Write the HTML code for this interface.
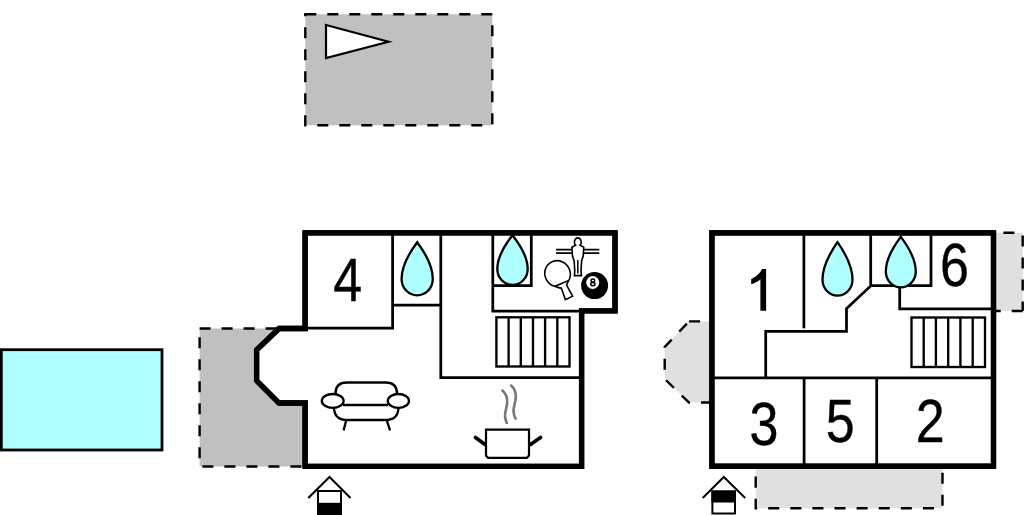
<!DOCTYPE html>
<html><head><meta charset="utf-8"><title>Floor plan</title>
<style>
html,body{margin:0;padding:0;background:#fff;width:1024px;height:515px;overflow:hidden}
svg{display:block}
.num{font-family:"Liberation Sans",sans-serif;font-size:60.5px;fill:#000;stroke:#000;stroke-width:0.35px}
</style></head>
<body>
<svg width="1024" height="515" viewBox="0 0 1024 515">
<g fill="none" stroke="#000">
<!-- top terrace -->
<rect x="305.3" y="14.3" width="187" height="111" fill="#c0c0c0" stroke-width="2.4" stroke-dasharray="11 11"/>
<polygon points="326,25 388.5,41.7 326,58" fill="#fff" stroke-width="2.2"/>
<!-- pool -->
<rect x="1.3" y="349.7" width="160.7" height="100.3" fill="#b0ffff" stroke-width="2.8"/>
<!-- left patio -->
<rect x="199.6" y="328.5" width="105" height="138" fill="#c0c0c0" stroke="none"/>
<path d="M199.6,328.5 H302.5" stroke-width="2.4" stroke-dasharray="11 11"/>
<path d="M302.5,466.5 H199.6" stroke-width="2.4" stroke-dasharray="11 11" stroke-dashoffset="20.9"/>
<path d="M199.6,466.5 V328.5" stroke-width="2.4" stroke-dasharray="11 11" stroke-dashoffset="13.8"/>
<!-- right house gray areas -->
<path d="M712,402.5 H689 L664.7,379 V347 L689,321.4 H712 Z" fill="#e0e0e0" stroke="none"/>
<path d="M712,402.5 H689 L664.7,379 V347 L689,321.4" stroke-width="2.4" stroke-dasharray="11 11"/>
<path d="M689,321.4 H712" stroke-width="2.4" stroke-dasharray="11 11"/>
<rect x="993.5" y="232.8" width="29.2" height="78.2" fill="#e0e0e0" stroke="none"/>
<path d="M1022.7,311 V232.8 H993.5" stroke-width="2.4" stroke-dasharray="11 11" stroke-dashoffset="1.5"/>
<path d="M1022.7,311 H993.5" stroke-width="2.4" stroke-dasharray="11 11"/>
<rect x="755.7" y="458" width="186.8" height="50.3" fill="#e0e0e0" stroke="none"/>
<path d="M755.7,466 V508.3 H942.5 V466" stroke-width="2.4" stroke-dasharray="11.05 11.05" stroke-dashoffset="11.5"/>

<!-- LEFT HOUSE -->
<path d="M305.1,232.8 H615 V310.8 H581.6 V466.3 H305.1 V403 H279 L256.6,380.5 V350 L279,328.5 H305.1 Z" fill="#fff" stroke-width="5.3"/>
<g stroke-width="2.75">
<path d="M305,328.1 H392.6 V232.8"/>
<path d="M392.6,305 H440.8"/>
<path d="M440.8,232.8 V377.7 H581.6"/>
<path d="M492.8,232.8 V311.2 H581.6"/>
<path d="M531.3,232.8 V285.5 H492.8"/>
</g>
<g stroke-width="2.35">
<rect x="496.4" y="317.3" width="73.1" height="49.2"/>
<path d="M508.6,317.3 V366.5 M520.8,317.3 V366.5 M533,317.3 V366.5 M545.1,317.3 V366.5 M557.3,317.3 V366.5"/>
</g>
<path d="M305.1,232.8 H615 V310.8 H581.6 V466.3 H305.1 V403 H279 L256.6,380.5 V350 L279,328.5 H305.1 Z" stroke-width="5.3"/>

<!-- RIGHT HOUSE -->
<rect x="711.9" y="232.9" width="281.6" height="233.3" fill="#fff" stroke-width="5.3"/>
<g stroke-width="2.75">
<path d="M803.9,232.9 V328.3"/>
<path d="M765.7,377.8 V331.3 H846.5 V308.5 L870.7,286 V232.9"/>
<path d="M870.7,285.5 H931 V232.9"/>
<path d="M899.7,288 V308.8 H993.5"/>
<path d="M712,377.8 H993.5"/>
<path d="M804.1,377.8 V466.2 M876.7,377.8 V466.2"/>
</g>
<g stroke-width="2.35">
<rect x="911.5" y="317.5" width="73.5" height="49.5"/>
<path d="M923.7,317.5 V367 M935.9,317.5 V367 M948.2,317.5 V367 M960.4,317.5 V367 M972.7,317.5 V367"/>
</g>
<rect x="711.9" y="232.9" width="281.6" height="233.3" stroke-width="5.3"/>

<!-- drops -->
<g fill="#b0ffff" stroke-width="2.3">
<path d="M417.2,242.2 C421.9,248.6 432.8,263.0 432.8,278.9 A15.6,16.4 0 0 1 401.6,278.9 C401.6,263.0 412.5,248.6 417.2,242.2 Z"/>
<path d="M512.5,235.2 C517.1,241.2 527.7,254.1 527.7,269.0 A15.2,16.0 0 0 1 497.3,269.0 C497.3,254.1 507.9,241.2 512.5,235.2 Z"/>
<path d="M837.5,242.2 C842.0,248.6 852.5,263.8 852.5,279.8 A15.0,15.8 0 0 1 822.5,279.8 C822.5,263.8 833.0,248.6 837.5,242.2 Z"/>
<path d="M900.8,236.8 C905.3,242.9 915.8,256.4 915.8,271.6 A15.0,15.8 0 0 1 885.8,271.6 C885.8,256.4 896.3,242.9 900.8,236.8 Z"/>
</g>

<!-- sofa -->
<g stroke-width="2.3" fill="#fff">
<path d="M335.5,396 V393.5 Q335.5,382.5 347,382.5 H385.5 Q397,382.5 397,393.5 V396"/>
<path d="M334,407 Q334,420 347,420 H385.5 Q398.5,420 398.5,407"/>
<path d="M343,405 H388"/>
<path d="M346,421 L343.6,430.4 M387,421 L390,430.4"/>
<ellipse cx="332.7" cy="400.9" rx="10.9" ry="6.9"/>
<ellipse cx="398.4" cy="400.9" rx="10.6" ry="6.9"/>
</g>

<!-- pot -->
<g stroke-width="2.2">
<path d="M486,429.6 H529 V455.5 L527,457.8 H488 L486,455.5 Z" fill="#fff"/>
<path d="M475.5,437.5 L485,444.5 M540.5,437.5 L530.5,444.5" stroke-width="3.6" stroke-linecap="round"/>
<path d="M502.4,390.6 C506.3,393.8 507.6,398.5 507.1,403.5 C506.6,408.5 504.6,412.5 505,416.5 C505.3,419.3 506,421.4 506.8,423" stroke="#777" stroke-width="2.6" stroke-linecap="round"/>
<path d="M511.1,385.6 C515,388.8 516.2,393.5 515.7,398.5 C515.2,403.5 513.2,407.5 513.5,411.5 C513.8,414.3 514.6,416.9 515.6,418.6" stroke="#777" stroke-width="2.6" stroke-linecap="round"/>
</g>

<!-- foosball figure -->
<g stroke-width="1.6" fill="#fff">
<path d="M556,249.6 H571.8 M556,253.1 H571.8 M584,249.6 H599.3 M584,253.1 H599.3"/>
<path d="M575.6,245.2 C573.6,243.5 574.3,237.9 577.8,237.9 C581.3,237.9 582,243.5 580,245.2 L583.8,247.3 L583.2,256 L581.6,261 L581,270.6 L581.4,275.6 H574.4 L574.8,270.6 L574.1,261 L572.5,256 L571.9,247.3 Z"/>
<path d="M577.8,260 V273.6" stroke-width="1.5"/>
</g>
<!-- ping pong paddle -->
<g stroke-width="1.6" fill="#fff">
<path d="M555,286.3 Q559,288.2 561.3,288.1 L565.4,299.6 L572.6,296.2 L566.6,285.2 Q567.3,282.3 568.8,280.4"/>
<path d="M555,286.3 A12.6,13.2 -35 1 1 568.8,280.4 Z"/>
</g>
<!-- 8 ball -->
<circle cx="594.6" cy="285.6" r="13.5" fill="#000" stroke="none"/>
<circle cx="592.7" cy="282.5" r="6.5" fill="#fff" stroke="none"/>
<g fill="none" stroke="#000" stroke-width="1.45"><ellipse cx="592.85" cy="280.6" rx="1.85" ry="1.55"/><ellipse cx="592.85" cy="284.05" rx="2.2" ry="1.65"/></g>

<!-- entries -->
<g stroke-width="2">
<path d="M308.3,498 L329.5,477 L350.5,498"/>
<rect x="318" y="491" width="23" height="30" fill="#fff"/>
<rect x="317" y="502.8" width="25" height="15" fill="#000" stroke="none"/>
<path d="M702.7,498 L723.8,477 L745.2,498"/>
<rect x="712.4" y="491.5" width="22.6" height="22" fill="#fff"/>
<rect x="711.4" y="490.5" width="24.6" height="12" fill="#000" stroke="none"/>
</g>
</g>

<!-- numbers -->
<text class="num" transform="translate(333.25 300.95) scale(0.86 1)">4</text>
<text class="num" transform="translate(749.55 445.1) scale(0.86 1)">3</text>
<text class="num" transform="translate(825.85 441.5) scale(0.86 1)">5</text>
<text class="num" transform="translate(915.7 441.9) scale(0.86 1)">2</text>
<text class="num" transform="translate(940.1 286.4) scale(0.86 1)">6</text>
<path d="M766.1,269 V310.8 H760.4 V279.2 C757.8,281.6 754.6,283.2 751.2,284.2 V279 C755.5,277.3 760,273.5 762,269 Z" fill="#000"/>
</svg>
</body></html>
